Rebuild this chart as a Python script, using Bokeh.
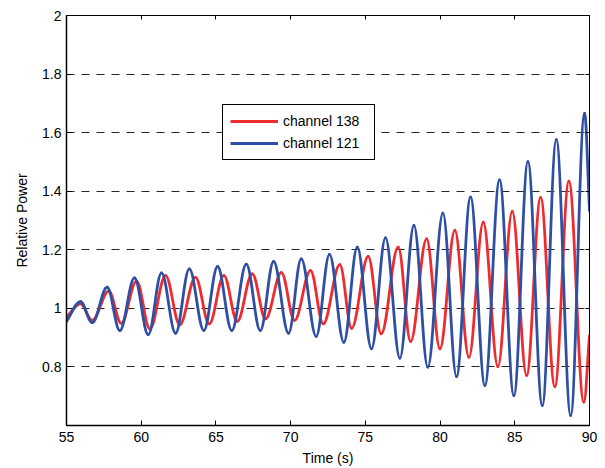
import numpy as np
from bokeh.plotting import figure
from bokeh.models import (Range1d, NumeralTickFormatter, LinearAxis, Legend,
                          LegendItem, ColumnDataSource)
from bokeh.embed import file_html
from bokeh.resources import INLINE

# ---- data (extrema of each oscillation) ----
t138 = [55.0, 55.94, 56.72, 57.83, 58.66, 59.69, 60.58, 61.63, 62.58, 63.63,
        64.55, 65.53, 66.43, 67.43, 68.32, 69.38, 70.26, 71.33, 72.18, 73.29,
        74.08, 75.19, 76.06, 77.20, 78.03, 79.10, 79.99, 80.99, 81.93, 82.89,
        83.87, 84.83, 85.79, 86.73, 87.68, 88.62, 89.62, 90.0]
v138 = [0.970, 1.015, 0.959, 1.059, 0.949, 1.093, 0.930, 1.112, 0.944, 1.106,
        0.947, 1.112, 0.956, 1.118, 0.964, 1.122, 0.959, 1.129, 0.947, 1.149,
        0.932, 1.177, 0.913, 1.209, 0.887, 1.237, 0.862, 1.266, 0.833, 1.294,
        0.801, 1.331, 0.771, 1.378, 0.733, 1.434, 0.680, 0.907]

t121 = [55.0, 55.94, 56.72, 57.72, 58.57, 59.55, 60.47, 61.36, 62.30, 63.22,
        64.19, 65.11, 66.06, 67.03, 67.97, 68.86, 69.86, 70.71, 71.71, 72.60,
        73.56, 74.46, 75.41, 76.35, 77.31, 78.25, 79.18, 80.19, 81.10, 82.04,
        83.00, 83.98, 84.94, 85.88, 86.84, 87.78, 88.74, 89.67, 90.0]
v121 = [0.955, 1.023, 0.951, 1.072, 0.924, 1.104, 0.910, 1.121, 0.915, 1.135,
        0.924, 1.143, 0.924, 1.151, 0.924, 1.160, 0.915, 1.169, 0.904, 1.184,
        0.884, 1.209, 0.862, 1.241, 0.830, 1.283, 0.799, 1.325, 0.767, 1.380,
        0.737, 1.439, 0.702, 1.501, 0.668, 1.576, 0.634, 1.666, 1.334]

x_ticks = [55, 60, 65, 70, 75, 80, 85, 90]
y_ticks = [0.8, 1.0, 1.2, 1.4, 1.6, 1.8, 2.0]

RED = "#EE2B2E"
BLUE = "#2F4FA5"
FONT = "Liberation Sans"
LW = 2.8


def smooth_segments(t, v, k=0.364):
    """Cubic segments between consecutive read points, flat at the extrema."""
    t = np.asarray(t, float)
    v = np.asarray(v, float)
    x0, x1 = t[:-1], t[1:]
    y0, y1 = v[:-1], v[1:]
    dx = x1 - x0
    cx0 = x0 + k * dx
    cx1 = x1 - k * dx
    cy0 = y0.copy()
    cy1 = y1.copy()
    # the window edges are not extrema: keep the tangent along the segment
    cy0[0] = y0[0] + k * (y1[0] - y0[0])
    cy1[-1] = y1[-1] - k * (y1[-1] - y0[-1])
    return ColumnDataSource(dict(x0=x0, y0=y0, x1=x1, y1=y1,
                                 cx0=cx0, cy0=cy0, cx1=cx1, cy1=cy1))


p = figure(width=605, height=468, x_range=Range1d(55, 90),
           y_range=Range1d(0.6, 2.0), output_backend="svg",
           toolbar_location=None, min_border_left=66, min_border_right=16,
           min_border_top=15, min_border_bottom=43)
p.background_fill_color = "white"
p.border_fill_color = "white"
p.outline_line_color = "black"
p.outline_line_width = 1

# grid
p.xgrid.visible = False
p.ygrid.ticker = y_ticks
p.ygrid.grid_line_color = "black"
p.ygrid.grid_line_dash = "8 7"
p.ygrid.grid_line_width = 1
p.ygrid.grid_line_alpha = 0.85

# axes
for ax in (p.xaxis[0], p.yaxis[0]):
    ax.major_tick_in = 5
    ax.major_tick_out = 0
    ax.minor_tick_in = 0
    ax.minor_tick_out = 0
    ax.axis_line_color = "black"
    ax.axis_line_width = 1.5
    ax.major_tick_line_color = "black"
    ax.major_label_text_font = FONT
    ax.major_label_text_font_size = "14px"
    ax.major_label_text_color = "black"
    ax.axis_label_text_font = FONT
    ax.axis_label_text_font_size = "14px"
    ax.axis_label_text_font_style = "normal"
    ax.axis_label_text_color = "black"

p.xaxis.ticker = x_ticks
p.yaxis.ticker = y_ticks
p.yaxis.formatter = NumeralTickFormatter(format="0.[0]")
p.xaxis.axis_label = "Time (s)"
p.yaxis.axis_label = "Relative Power"
p.xaxis.major_label_standoff = 6
p.xaxis.axis_label_standoff = 5
p.yaxis.major_label_standoff = 5
p.yaxis.axis_label_standoff = 9

# mirrored ticks on top and right (box on), without labels
for loc, ticks in (("above", x_ticks), ("right", y_ticks)):
    ax = LinearAxis(ticker=ticks, major_label_text_font_size="1px",
                    major_label_text_color=None, major_label_standoff=0,
                    major_tick_in=4, major_tick_out=0,
                    minor_tick_in=0, minor_tick_out=0, axis_line_color="black",
                    axis_line_width=1, major_tick_line_color="black")
    p.add_layout(ax, loc)

# curves (blue drawn on top)
p.bezier(x0="x0", y0="y0", x1="x1", y1="y1", cx0="cx0", cy0="cy0",
         cx1="cx1", cy1="cy1", source=smooth_segments(t138, v138),
         line_color=RED, line_width=LW, line_cap="round")
p.bezier(x0="x0", y0="y0", x1="x1", y1="y1", cx0="cx0", cy0="cy0",
         cx1="cx1", cy1="cy1", source=smooth_segments(t121, v121),
         line_color=BLUE, line_width=LW, line_cap="round")

# legend entries (single data point each: draws nothing in the plot)
r138 = p.line(x=t138[:1], y=v138[:1], line_color=RED, line_width=LW)
r121 = p.line(x=t121[:1], y=v121[:1], line_color=BLUE, line_width=LW)
legend = Legend(items=[LegendItem(label="channel 138", renderers=[r138]),
                       LegendItem(label="channel 121", renderers=[r121])],
                location=(156, 265))
legend.border_line_color = "black"
legend.border_line_width = 1
legend.border_line_alpha = 1
legend.background_fill_color = "white"
legend.background_fill_alpha = 1
legend.label_text_font = FONT
legend.label_text_font_size = "14px"
legend.label_text_color = "black"
legend.glyph_width = 48
legend.glyph_height = 18
legend.label_height = 18
legend.label_width = 84
legend.label_standoff = 5
legend.spacing = 4
legend.padding = 7
legend.margin = 0
p.add_layout(legend)

open("out.html", "w").write(file_html(p, INLINE))
